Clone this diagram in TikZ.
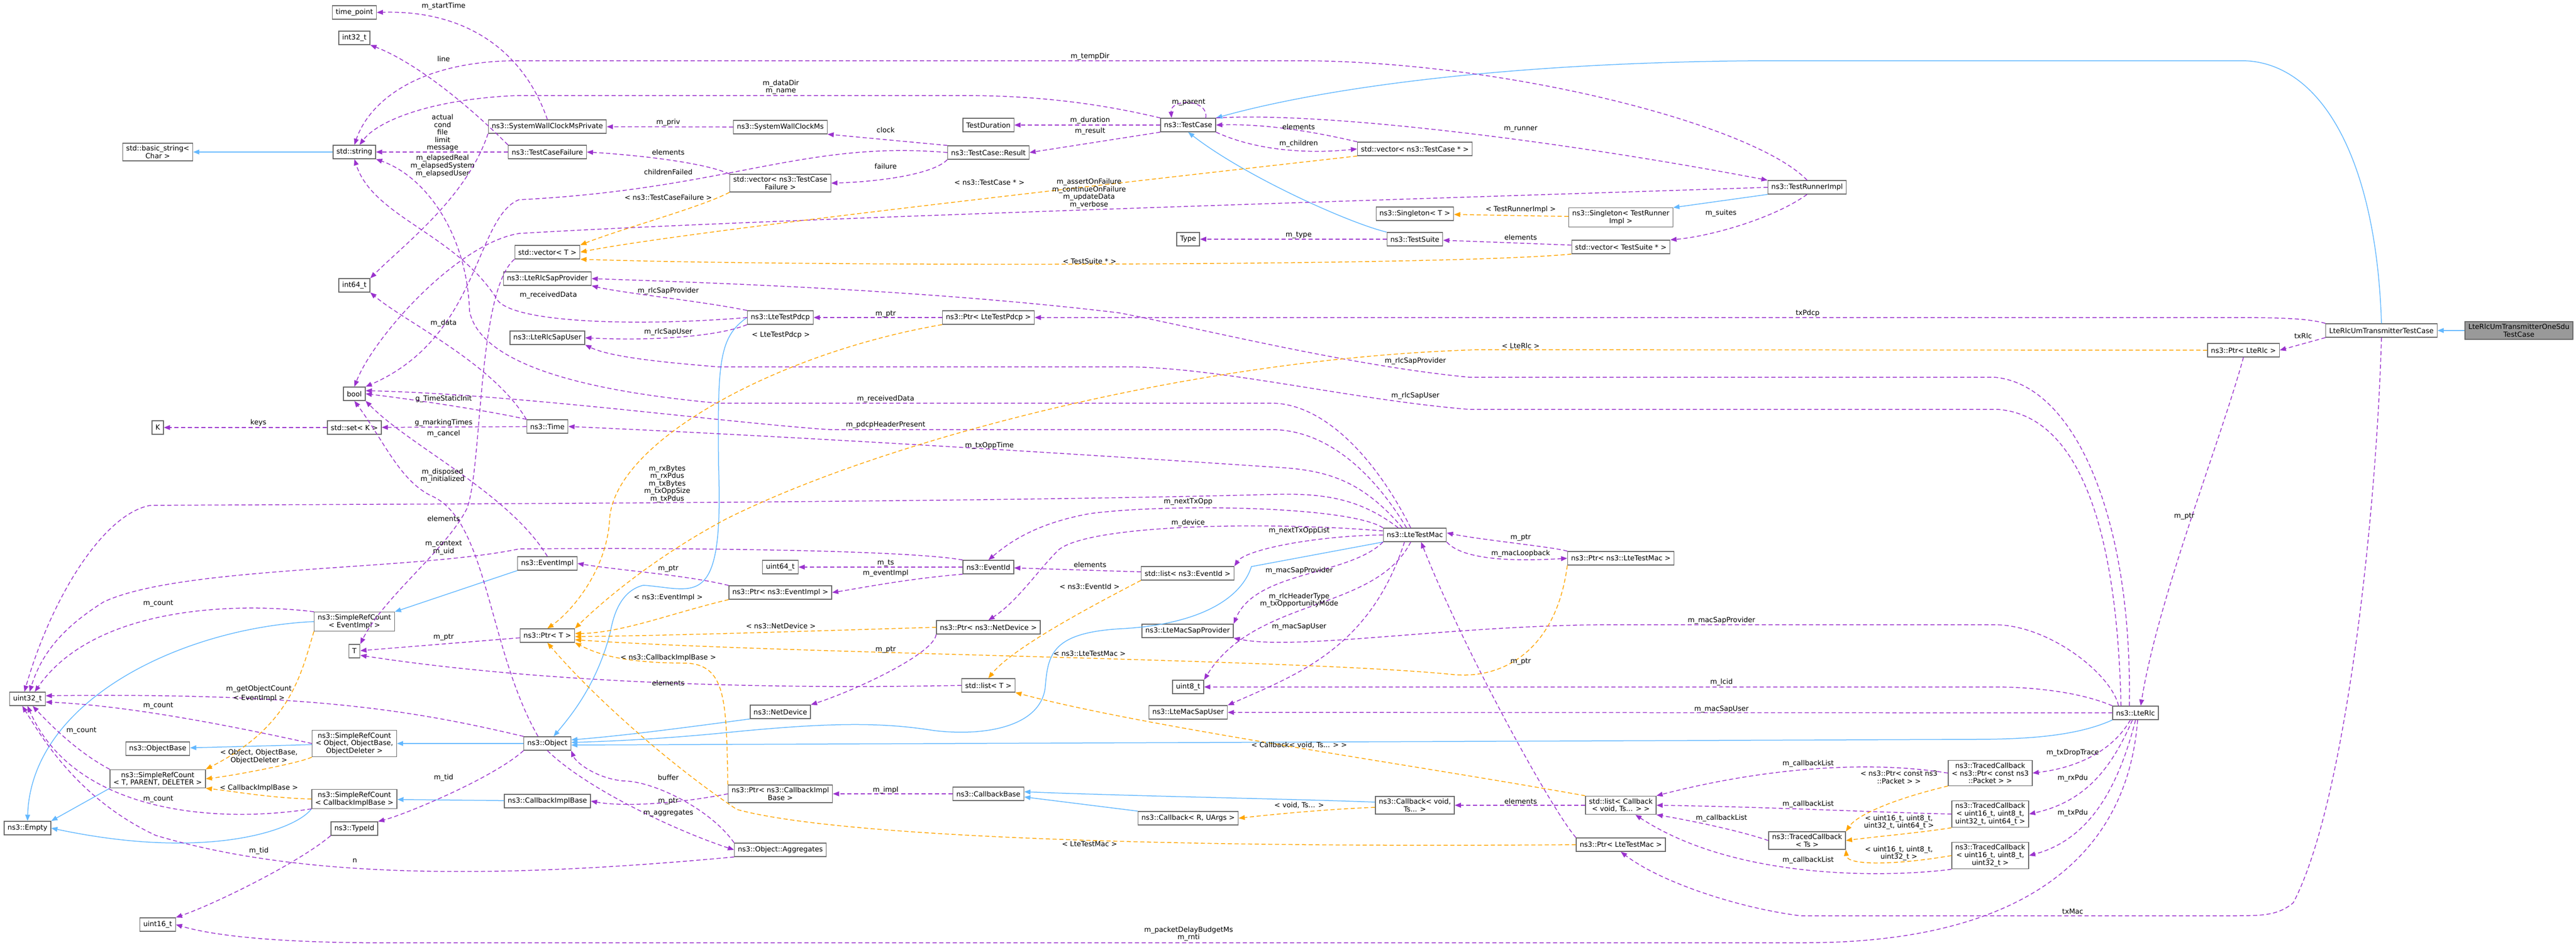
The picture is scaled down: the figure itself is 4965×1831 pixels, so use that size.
\documentclass[tikz,border=0pt]{standalone}
\usepackage{fontspec}
\setmainfont{DejaVu Sans}
\usepackage{tikz}
\usetikzlibrary{arrows.meta}
\definecolor{edgepurple}{HTML}{9A32CD}
\definecolor{edgeorange}{HTML}{FFA500}
\definecolor{edgeblue}{HTML}{63B8FF}
\definecolor{boxgray}{HTML}{666666}
\definecolor{rootfill}{HTML}{999999}

\begin{document}
\begin{tikzpicture}[x=0.5pt, y=-0.5pt,
        font=\fontsize{6.75}{7.3}\selectfont,
        cls/.style={draw=boxgray, fill=white, line width=0.7pt, inner xsep=3.3pt,
            inner ysep=2.2pt, minimum height=13pt, align=center},
        rootcls/.style={cls, fill=rootfill},
        lbl/.style={inner sep=0.5pt, align=center},
        mem/.style={draw=edgepurple, line width=0.75pt, dash pattern=on 4pt off 2.5pt,
            -{Triangle[length=6pt, width=4.6pt]}},
        tmpl/.style={draw=edgeorange, line width=0.75pt, dash pattern=on 4pt off 2.5pt,
            -{Triangle[length=6pt, width=4.6pt]}},
        inh/.style={draw=edgeblue, line width=0.75pt, -{Triangle[length=6pt, width=4.6pt]}}]
        \useasboundingbox (0, 0) rectangle (4965, 1831);

        % left columns
        \node[cls] (tpoint) at (683, 24) {time\_point};
        \node[cls] (i32) at (683, 73) {int32\_t};
        \node[cls] (str) at (683, 293) {std::string};
        \node[cls] (bstr) at (304, 293) {std::basic\_string<\\Char >};
        \node[cls] (i64) at (683, 550) {int64\_t};
        \node[cls] (bool) at (683, 759) {bool};
        \node[cls] (K) at (304, 824) {K};
        \node[cls] (setK) at (683, 824) {std::set< K >};
        \node[cls] (srcEv) at (683, 1198) {ns3::SimpleRefCount\\< EventImpl >};
        \node[cls] (T) at (683, 1255) {T};
        \node[cls] (u32) at (53, 1347) {uint32\_t};
        \node[cls] (srcObj) at (683, 1433) {ns3::SimpleRefCount\\< Object, ObjectBase,\\ObjectDeleter >};
        \node[cls] (objBase) at (304, 1443) {ns3::ObjectBase};
        \node[cls] (srcT) at (304, 1501) {ns3::SimpleRefCount\\< T, PARENT, DELETER >};
        \node[cls] (srcCb) at (683, 1540) {ns3::SimpleRefCount\\< CallbackImplBase >};
        \node[cls] (empty) at (53, 1596) {ns3::Empty};
        \node[cls] (typeId) at (683, 1597) {ns3::TypeId};
        \node[cls] (u16) at (304, 1782) {uint16\_t};

        \node[cls] (swcp) at (1055, 244) {ns3::SystemWallClockMsPrivate};
        \node[cls] (tcf) at (1055, 293) {ns3::TestCaseFailure};
        \node[cls] (vecT) at (1055, 486) {std::vector< T >};
        \node[cls] (sapP) at (1055, 537) {ns3::LteRlcSapProvider};
        \node[cls] (sapU) at (1055, 651) {ns3::LteRlcSapUser};
        \node[cls] (time) at (1055, 822) {ns3::Time};
        \node[cls] (evImpl) at (1055, 1086) {ns3::EventImpl};
        \node[cls] (ptrT) at (1055, 1225) {ns3::Ptr< T >};
        \node[cls] (obj) at (1055, 1433) {ns3::Object};
        \node[cls] (cbImpl) at (1055, 1544) {ns3::CallbackImplBase};

        % middle columns
        \node[cls] (swc) at (1504, 245) {ns3::SystemWallClockMs};
        \node[cls] (vecTcf) at (1504, 353) {std::vector< ns3::TestCase\\Failure >};
        \node[cls] (pdcp) at (1504, 612) {ns3::LteTestPdcp};
        \node[cls] (u64) at (1504, 1093) {uint64\_t};
        \node[cls] (ptrEv) at (1504, 1142) {ns3::Ptr< ns3::EventImpl >};
        \node[cls] (nd) at (1504, 1372) {ns3::NetDevice};
        \node[cls] (ptrCb) at (1504, 1530) {ns3::Ptr< ns3::CallbackImpl\\Base >};
        \node[cls] (aggr) at (1504, 1638) {ns3::Object::Aggregates};

        \node[cls] (tdur) at (1905, 241) {TestDuration};
        \node[cls] (tres) at (1905, 294) {ns3::TestCase::Result};
        \node[cls] (ptrPdcp) at (1905, 612) {ns3::Ptr< LteTestPdcp >};
        \node[cls] (evId) at (1905, 1093) {ns3::EventId};
        \node[cls] (ptrNd) at (1905, 1209) {ns3::Ptr< ns3::NetDevice >};
        \node[cls] (listT) at (1905, 1321) {std::list< T >};
        \node[cls] (cbBase) at (1905, 1530) {ns3::CallbackBase};

        \node[cls] (tcase) at (2290, 241) {ns3::TestCase};
        \node[cls] (type) at (2290, 461) {Type};
        \node[cls] (listEv) at (2289, 1105) {std::list< ns3::EventId >};
        \node[cls] (macP) at (2289, 1216) {ns3::LteMacSapProvider};
        \node[cls] (u8) at (2290, 1324) {uint8\_t};
        \node[cls] (macU) at (2290, 1373) {ns3::LteMacSapUser};
        \node[cls] (cbRU) at (2290, 1577) {ns3::Callback< R, UArgs >};

        \node[cls] (vecTc) at (2727, 287) {std::vector< ns3::TestCase * >};
        \node[cls] (singT) at (2727, 412) {ns3::Singleton< T >};
        \node[cls] (suite) at (2727, 461) {ns3::TestSuite};
        \node[cls] (mac) at (2727, 1031) {ns3::LteTestMac};
        \node[cls] (cbVoid) at (2727, 1552) {ns3::Callback< void,\\Ts... >};

        % right columns
        \node[cls] (singR) at (3124, 419) {ns3::Singleton< TestRunner\\Impl >};
        \node[cls] (vecTs) at (3124, 476) {std::vector< TestSuite * >};
        \node[cls] (ptrMac) at (3124, 1076) {ns3::Ptr< ns3::LteTestMac >};
        \node[cls] (listCb) at (3124, 1552) {std::list< Callback\\< void, Ts... > >};
        \node[cls] (ptrMacB) at (3124, 1628) {ns3::Ptr< LteTestMac >};
        \node[cls] (runner) at (3483, 361) {ns3::TestRunnerImpl};
        \node[cls] (tcTs) at (3483, 1620) {ns3::TracedCallback\\< Ts >};
        \node[cls] (tcPkt) at (3836, 1490) {ns3::TracedCallback\\< ns3::Ptr< const ns3\\::Packet > >};
        \node[cls] (tc4) at (3836, 1569) {ns3::TracedCallback\\< uint16\_t, uint8\_t,\\uint32\_t, uint64\_t >};
        \node[cls] (tc3) at (3836, 1649) {ns3::TracedCallback\\< uint16\_t, uint8\_t,\\uint32\_t >};
        \node[cls] (rlc) at (4116, 1374) {ns3::LteRlc};
        \node[cls] (ptrRlc) at (4324, 675) {ns3::Ptr< LteRlc >};
        \node[cls] (umtc) at (4590, 637) {LteRlcUmTransmitterTestCase};
        \node[rootcls] (onesdu) at (4855, 637) {LteRlcUmTransmitterOneSdu\\TestCase};

        % inheritance
        \draw[inh] (str) -- (bstr);
        \draw[inh] (onesdu) -- (umtc);
        \draw[inh] (umtc.north) .. controls (4580, 300) and (4470, 117) .. (4320, 117)
            -- (3400, 117) .. controls (2900, 120) and (2550, 170) .. (tcase.north east);
        \draw[inh] (suite.north west) .. controls (2600, 430) and (2400, 340) .. (tcase.south);
        \draw[inh] (runner.south west) -- (singR.north east);
        \draw[inh] (pdcp.west) .. controls (1385, 650) and (1383, 700) .. (1385, 900)
            .. controls (1395, 1180) and (1340, 1135) .. (1240, 1128)
            .. controls (1190, 1140) and (1180, 1200) .. (1176, 1220)
            .. controls (1150, 1320) and (1100, 1380) .. ([xshift=6pt]obj.north);
        \draw[inh] (evImpl.south west) -- (srcEv.north east);
        \draw[inh] (srcEv.west) .. controls (350, 1210) and (60, 1350) .. (empty.north);
        \draw[inh] (obj) -- (srcObj);
        \draw[inh] (srcObj) -- (objBase);
        \draw[inh] (srcT.south west) -- (empty.north east);
        \draw[inh] (srcCb.south west) .. controls (570, 1600) and (400, 1660) .. (empty.east);
        \draw[inh] (cbImpl) -- (srcCb);
        \draw[inh] (nd.south west) .. controls (1300, 1405) and (1200, 1418) .. ([yshift=3.5pt]obj.east);
        \draw[inh] (mac.south west) -- (2412, 1092) .. controls (2390, 1160) and (2300, 1205) .. (2157, 1212)
            .. controls (2030, 1220) and (2020, 1260) .. (2015, 1320)
            .. controls (2010, 1400) and (1900, 1420) .. (1800, 1408)
            .. controls (1700, 1392) and (1600, 1392) .. (1400, 1412)
            .. controls (1300, 1422) and (1200, 1428) .. ([yshift=1pt]obj.east);
        \draw[inh] (rlc.south west) .. controls (4000, 1420) and (3900, 1425) .. (3800, 1425)
            -- ([yshift=-1.5pt]obj.east);
        \draw[inh] ([yshift=3pt]cbVoid.west) .. controls (2500, 1540) and (2200, 1535) .. ([yshift=2pt]cbBase.east);
        \draw[inh] (cbRU.north west) -- ([yshift=-3pt]cbBase.east);

        % members
        \draw[mem] (swcp.north) .. controls (1010, 100) and (900, 19) .. (tpoint.east);
        \draw[mem] (tcf.north west) .. controls (900, 200) and (800, 120) .. (i32.south east);
        \draw[mem] (tcf) -- (str);
        \draw[mem] (swcp.south west) .. controls (900, 380) and (780, 470) .. (i64.north east);
        \draw[mem] (runner.north) .. controls (3380, 240) and (2900, 117) .. (2500, 117)
            -- (1000, 117) .. controls (800, 117) and (710, 200) .. (str.north);
        \draw[mem] (tcase.north west) .. controls (2100, 195) and (1980, 184) .. (1850, 184)
            -- (1000, 184) .. controls (840, 190) and (730, 230) .. ([xshift=5pt]str.north);
        \draw[mem] (tcase) -- (tdur);
        \draw[mem] (tcase.south west) -- (tres.east);
        \draw[mem] ([xshift=17pt]tcase.north) .. controls (2330, 190) and (2255, 190) .. ([xshift=-16pt]tcase.north);
        \draw[mem] (tcase.south east) .. controls (2420, 290) and (2520, 297) .. (vecTc.west);
        \draw[mem] (vecTc.north west) .. controls (2550, 258) and (2450, 238) .. (tcase.east);
        \draw[mem] (tcase.north east) .. controls (2550, 215) and (3000, 270) .. (runner.north west);
        \draw[mem] (tres.north west) -- (swc.south east);
        \draw[mem] (tres.south west) .. controls (1800, 335) and (1700, 350) .. (vecTcf.east);
        \draw[mem] (swc) -- (swcp);
        \draw[mem] (vecTcf.north west) .. controls (1350, 310) and (1200, 297) .. (tcf.east);
        \draw[mem] (tres.west) .. controls (1550, 270) and (1400, 365) .. (1000, 385)
            .. controls (915, 420) and (925, 650) .. (bool.north east);
        \draw[mem] (runner.west) .. controls (3000, 375) and (1500, 420) .. (1000, 450)
            .. controls (880, 470) and (720, 650) .. (bool.north);
        \draw[mem] (runner.south) .. controls (3420, 420) and (3300, 455) .. (vecTs.north east);
        \draw[mem] (vecTs) -- (suite);
        \draw[mem] (suite) -- (type);

        \draw[mem] (umtc.south west) -- (ptrRlc.east);
        \draw[mem] (umtc.north west) .. controls (4450, 614) and (4400, 612) .. (4300, 612) -- (ptrPdcp.east);
        \draw[mem] (umtc.south) .. controls (4580, 1000) and (4520, 1550) .. (4420, 1740)
            .. controls (4390, 1765) and (4360, 1765) .. (4300, 1765) -- (3470, 1765)
            .. controls (3350, 1750) and (3200, 1700) .. (ptrMacB.south);
        \draw[mem] (ptrRlc.south) .. controls (4280, 850) and (4160, 1150) .. ([xshift=5pt]rlc.north);
        \draw[mem] (ptrPdcp) -- (pdcp);
        \draw[mem] (pdcp.north west) .. controls (1350, 580) and (1200, 565) .. (sapP.south east);
        \draw[mem] (pdcp.south west) .. controls (1380, 650) and (1250, 657) .. (sapU.east);
        \draw[mem] (pdcp.west) .. controls (1250, 628) and (1000, 625) .. (960, 580)
            .. controls (880, 450) and (720, 420) .. (str.south);

        \draw[mem] ([xshift=-6pt]rlc.north) .. controls (4110, 1000) and (4000, 740) .. (3843, 727)
            -- (2831, 727) .. controls (2600, 705) and (2300, 630) .. (2157, 603)
            .. controls (1800, 560) and (1400, 546) .. (sapP.east);
        \draw[mem] ([xshift=-14pt]rlc.north) .. controls (4080, 1000) and (4000, 800) .. (3850, 789)
            -- (2831, 789) .. controls (2600, 770) and (2350, 707) .. (2165, 707)
            -- (1383, 707) .. controls (1300, 700) and (1180, 690) .. (sapU.south east);
        \draw[mem] ([xshift=6pt]rlc.north west) .. controls (4070, 1300) and (3950, 1204) .. (3843, 1204)
            -- (3113, 1204) .. controls (2800, 1204) and (2500, 1255) .. (macP.south east);
        \draw[mem] (rlc.north west) .. controls (4000, 1330) and (3900, 1324) .. (3843, 1324) -- (u8.east);
        \draw[mem] (rlc) -- (macU);
        \draw[mem] ([xshift=-5pt]rlc.south) .. controls (4070, 1450) and (4000, 1480) .. (tcPkt.east);
        \draw[mem] ([xshift=-3pt]rlc.south) .. controls (4070, 1480) and (4020, 1545) .. (tc4.east);
        \draw[mem] (rlc.south) .. controls (4080, 1530) and (4020, 1620) .. (tc3.east);
        \draw[mem] ([xshift=2pt]rlc.south) .. controls (4100, 1650) and (3900, 1817) .. (3478, 1817)
            -- (700, 1817) .. controls (500, 1815) and (400, 1800) .. (u16.east);

        \draw[mem] (ptrMac.north west) .. controls (3000, 1055) and (2850, 1040) .. ([yshift=2pt]mac.east);
        \draw[mem] (mac.south east) .. controls (2820, 1080) and (2920, 1082) .. (ptrMac.west);
        \draw[mem] (mac.west) .. controls (2530, 1033) and (2400, 1060) .. (listEv.north east);
        \draw[mem] (mac.north west) .. controls (2600, 975) and (2250, 970) .. (2100, 990)
            .. controls (1990, 1010) and (1940, 1050) .. (evId.north);
        \draw[mem] ([yshift=-3pt]mac.north west) .. controls (2450, 1005) and (2100, 1010) .. (2040, 1060)
            .. controls (2000, 1100) and (1960, 1160) .. (ptrNd.north);
        \draw[mem] (mac.south west) .. controls (2600, 1110) and (2420, 1100) .. (macP.north east);
        \draw[mem] ([xshift=-4pt]mac.south) .. controls (2650, 1180) and (2420, 1150) .. (u8.north east);
        \draw[mem] ([xshift=-10pt]mac.south) .. controls (2640, 1250) and (2500, 1300) .. (macU.north east);
        \draw[mem] ([xshift=-4pt]mac.north) .. controls (2650, 880) and (2550, 777) .. (2450, 777)
            -- (1383, 777) .. controls (1200, 760) and (930, 720) .. (905, 600)
            .. controls (900, 450) and (820, 340) .. (str.south east);
        \draw[mem] ([xshift=-8pt]mac.north) .. controls (2640, 900) and (2550, 828) .. (2450, 828)
            -- (1599, 828) .. controls (1400, 815) and (1000, 760) .. ([yshift=3pt]bool.east);
        \draw[mem] ([xshift=-12pt]mac.north) .. controls (2620, 920) and (2550, 905) .. (2450, 900)
            .. controls (2000, 870) and (1500, 840) .. (time.east);
        \draw[mem] ([xshift=-16pt]mac.north) .. controls (2620, 960) and (2550, 950) .. (2450, 953)
            .. controls (1800, 970) and (600, 972) .. (290, 974)
            .. controls (200, 990) and (100, 1150) .. ([xshift=-3pt]u32.north);
        \draw[mem] (ptrMacB.north west) .. controls (2990, 1560) and (2820, 1250) .. ([xshift=6pt]mac.south);

        \draw[mem] (evId) -- (u64);
        \draw[mem] (evId.south west) .. controls (1750, 1115) and (1650, 1135) .. (ptrEv.east);
        \draw[mem] (evId.north west) .. controls (1750, 1060) and (1300, 1055) .. (1000, 1058)
            .. controls (800, 1100) and (350, 1090) .. (200, 1160)
            .. controls (120, 1210) and (80, 1260) .. ([xshift=2pt]u32.north);
        \draw[mem] (listEv) -- (evId);
        \draw[mem] (ptrEv.north west) .. controls (1320, 1108) and (1200, 1100) .. (evImpl.east);
        \draw[mem] (ptrNd.south west) .. controls (1800, 1260) and (1650, 1330) .. (nd.north east);

        \draw[mem] (time.north west) .. controls (950, 700) and (780, 620) .. (i64.south east);
        \draw[mem] (time.north west) .. controls (960, 795) and (800, 770) .. (bool.east);
        \draw[mem] (time) -- (setK);
        \draw[mem] (setK) -- (K);
        \draw[mem] (evImpl.north) .. controls (980, 950) and (790, 860) .. (bool.south east);
        \draw[mem] ([xshift=-9pt]obj.north) .. controls (940, 1250) and (940, 1000) .. (830, 955)
            .. controls (770, 925) and (740, 850) .. (bool.south);
        \draw[mem] (vecT.south west) .. controls (920, 560) and (930, 900) .. (900, 980)
            .. controls (860, 1060) and (740, 1150) .. (T.north east);
        \draw[mem] (ptrT) -- (T);
        \draw[mem] (listT.west) .. controls (1400, 1330) and (1000, 1310) .. ([yshift=-4pt]T.east);

        \draw[mem] (srcEv.north west) .. controls (450, 1160) and (180, 1170) .. ([xshift=7pt]u32.north);
        \draw[mem] (srcObj.west) .. controls (450, 1400) and (250, 1360) .. ([yshift=-3pt]u32.east);
        \draw[mem] (obj.north west) .. controls (800, 1370) and (600, 1335) .. ([yshift=3pt]u32.east);
        \draw[mem] (srcT.north west) .. controls (150, 1450) and (100, 1400) .. ([xshift=5pt]u32.south);
        \draw[mem] (srcCb.south west) .. controls (400, 1590) and (140, 1560) .. (u32.south);
        \draw[mem] (aggr.south west) .. controls (1000, 1690) and (600, 1700) .. (300, 1610)
            .. controls (150, 1540) and (80, 1420) .. ([xshift=-5pt]u32.south);
        \draw[mem] (obj.south west) .. controls (950, 1500) and (780, 1570) .. (typeId.north east);
        \draw[mem] (typeId.south west) .. controls (580, 1660) and (420, 1740) .. (u16.north east);
        \draw[mem] (obj.south) .. controls (1130, 1520) and (1300, 1600) .. (aggr.west);
        \draw[mem] (aggr.north west) .. controls (1370, 1560) and (1260, 1505) .. (1200, 1505)
            .. controls (1150, 1500) and (1110, 1470) .. (obj.south east);
        \draw[mem] (ptrCb.west) .. controls (1300, 1550) and (1200, 1555) .. (cbImpl.east);
        \draw[mem] (cbBase) -- (ptrCb);
        \draw[mem] (listCb) -- (cbVoid);
        \draw[mem] (tcTs.west) .. controls (3350, 1600) and (3250, 1580) .. (listCb.south east);
        \draw[mem] (tcPkt.west) .. controls (3600, 1465) and (3400, 1480) .. (listCb.north east);
        \draw[mem] (tc4.west) .. controls (3600, 1565) and (3400, 1555) .. (listCb.east);
        \draw[mem] (tc3.south west) .. controls (3650, 1690) and (3350, 1700) .. ([xshift=14pt]listCb.south);

        % template instances
        \draw[tmpl] (vecTcf.south west) .. controls (1350, 400) and (1200, 440) .. (vecT.north east);
        \draw[tmpl] (vecTc.south west) .. controls (2000, 370) and (1300, 450) .. (vecT.east);
        \draw[tmpl] (vecTs.south west) .. controls (2800, 512) and (1600, 515) .. (vecT.south east);
        \draw[tmpl] (singR) -- (singT);
        \draw[tmpl] (ptrPdcp.south west) .. controls (1500, 680) and (1185, 850) .. (1175, 1000)
            .. controls (1170, 1100) and (1100, 1180) .. (ptrT.north);
        \draw[tmpl] (ptrRlc.west) -- (2850, 674) .. controls (2300, 690) and (1700, 850) .. (1400, 1000)
            .. controls (1250, 1080) and (1150, 1170) .. (ptrT.north east);
        \draw[tmpl] (ptrEv.south west) .. controls (1300, 1180) and (1200, 1220) .. ([yshift=2pt]ptrT.east);
        \draw[tmpl] (ptrNd.west) .. controls (1600, 1215) and (1300, 1225) .. ([yshift=-1pt]ptrT.east);
        \draw[tmpl] (ptrMac.south west) .. controls (3000, 1250) and (2900, 1310) .. (2800, 1300)
            .. controls (2500, 1270) and (1500, 1260) .. ([yshift=-4pt]ptrT.east);
        \draw[tmpl] (ptrCb.north west) .. controls (1400, 1350) and (1400, 1280) .. (1320, 1278)
            .. controls (1200, 1278) and (1150, 1260) .. (ptrT.south east);
        \draw[tmpl] (ptrMacB.west) .. controls (2200, 1635) and (1600, 1610) .. (1420, 1560)
            .. controls (1300, 1480) and (1150, 1350) .. (ptrT.south);
        \draw[tmpl] (srcEv.south west) .. controls (580, 1300) and (560, 1400) .. (srcT.north east);
        \draw[tmpl] (srcObj.south west) .. controls (580, 1470) and (450, 1495) .. (srcT.east);
        \draw[tmpl] (srcCb.west) .. controls (520, 1538) and (450, 1525) .. (srcT.south east);
        \draw[tmpl] (listEv.south west) .. controls (2100, 1170) and (1950, 1250) .. (listT.north);
        \draw[tmpl] (listCb.north west) .. controls (2700, 1470) and (2200, 1400) .. (listT.south east);
        \draw[tmpl] ([yshift=-2pt]cbVoid.west) .. controls (2550, 1560) and (2450, 1570) .. (cbRU.east);
        \draw[tmpl] (tcPkt.south west) .. controls (3650, 1540) and (3580, 1570) .. (tcTs.north east);
        \draw[tmpl] (tc4.south west) .. controls (3700, 1605) and (3620, 1612) .. (tcTs.east);
        \draw[tmpl] (tc3.west) .. controls (3650, 1668) and (3560, 1668) .. (tcTs.south east);

        % edge labels
        \node[lbl] (lStart) at (855, 12) {m\_startTime};
        \node[lbl] (lLine) at (855, 113) {line};
        \node[lbl] (lTcf) at (853, 256) {actual\\cond\\file\\limit\\message};
        \node[lbl] (lElapsed) at (853, 320) {m\_elapsedReal\\m\_elapsedSystem\\m\_elapsedUser};
        \node[lbl] (lRecvPdcp) at (1057, 569) {m\_receivedData};
        \node[lbl] (lData) at (855, 623) {m\_data};
        \node[lbl] (lStatic) at (855, 769) {g\_TimeStaticInit};
        \node[lbl] (lMarking) at (855, 815) {g\_markingTimes};
        \node[lbl] (lCancel) at (855, 836) {m\_cancel};
        \node[lbl] (lKeys) at (498, 815) {keys};
        \node[lbl] (lDisposed) at (853, 917) {m\_disposed\\m\_initialized};
        \node[lbl] (lElemT) at (855, 999) {elements};
        \node[lbl] (lCtx) at (855, 1056) {m\_context\\m\_uid};
        \node[lbl] (lCntEv) at (305, 1163) {m\_count};
        \node[lbl] (lPtrT) at (855, 1228) {m\_ptr};
        \node[lbl] (lGetCnt) at (499, 1328) {m\_getObjectCount};
        \node[lbl] (lTplEv) at (499, 1346) {< EventImpl >};
        \node[lbl] (lCntObj) at (305, 1360) {m\_count};
        \node[lbl] (lCntT) at (157, 1408) {m\_count};
        \node[lbl] (lTplObj) at (499, 1458) {< Object, ObjectBase,\\ObjectDeleter >};
        \node[lbl] (lTplCb) at (499, 1519) {< CallbackImplBase >};
        \node[lbl] (lCntCb) at (305, 1540) {m\_count};
        \node[lbl] (lTid) at (855, 1499) {m\_tid};
        \node[lbl] (lTid2) at (499, 1640) {m\_tid};
        \node[lbl] (lN) at (684, 1659) {n};
        \node[lbl] (lTemp) at (2101, 109) {m\_tempDir};
        \node[lbl] (lDataDir) at (1505, 168) {m\_dataDir\\m\_name};
        \node[lbl] (lParent) at (2291, 197) {m\_parent};
        \node[lbl] (lDur) at (2101, 232) {m\_duration};
        \node[lbl] (lRes) at (2101, 253) {m\_result};
        \node[lbl] (lPriv) at (1288, 236) {m\_priv};
        \node[lbl] (lClock) at (1707, 250) {clock};
        \node[lbl] (lElemTcf) at (1288, 293) {elements};
        \node[lbl] (lChildF) at (1288, 331) {childrenFailed};
        \node[lbl] (lFail) at (1707, 320) {failure};
        \node[lbl] (lTplTcf) at (1288, 380) {< ns3::TestCaseFailure >};
        \node[lbl] (lTplTc) at (1907, 352) {< ns3::TestCase * >};
        \node[lbl] (lAssert) at (2099, 373) {m\_assertOnFailure\\m\_continueOnFailure\\m\_updateData\\m\_verbose};
        \node[lbl] (lTplTs) at (2100, 503) {< TestSuite * >};
        \node[lbl] (lSapPPdcp) at (1288, 561) {m\_rlcSapProvider};
        \node[lbl] (lPtrPdcp) at (1707, 605) {m\_ptr};
        \node[lbl] (lElemTc) at (2503, 244) {elements};
        \node[lbl] (lChildren) at (2503, 277) {m\_children};
        \node[lbl] (lRunner) at (2931, 249) {m\_runner};
        \node[lbl] (lTplRun) at (2931, 404) {< TestRunnerImpl >};
        \node[lbl] (lSuites) at (3317, 411) {m\_suites};
        \node[lbl] (lType) at (2503, 453) {m\_type};
        \node[lbl] (lElemTs) at (2931, 457) {elements};
        \node[lbl] (lTxPdcp) at (3484, 604) {txPdcp};
        \node[lbl] (lTxRlc) at (4439, 647) {txRlc};
        \node[lbl] (lPtrRlc) at (4210, 995) {m\_ptr};
        \node[lbl] (lSapUPdcp) at (1288, 640) {m\_rlcSapUser};
        \node[lbl] (lTplPdcp) at (1505, 646) {< LteTestPdcp >};
        \node[lbl] (lRecvMac) at (1707, 769) {m\_receivedData};
        \node[lbl] (lPdcpHdr) at (1707, 819) {m\_pdcpHeaderPresent};
        \node[lbl] (lTxOpp) at (1907, 859) {m\_txOppTime};
        \node[lbl] (lRxBytes) at (1286, 933) {m\_rxBytes\\m\_rxPdus\\m\_txBytes\\m\_txOppSize\\m\_txPdus};
        \node[lbl] (lNextTx) at (2290, 967) {m\_nextTxOpp};
        \node[lbl] (lDevice) at (2290, 1008) {m\_device};
        \node[lbl] (lTs) at (1707, 1085) {m\_ts};
        \node[lbl] (lEvImpl) at (1707, 1105) {m\_eventImpl};
        \node[lbl] (lPtrEv) at (1288, 1096) {m\_ptr};
        \node[lbl] (lTplEvI) at (1288, 1152) {< ns3::EventImpl >};
        \node[lbl] (lElemEv) at (2101, 1088) {elements};
        \node[lbl] (lTplEvId) at (2100, 1130) {< ns3::EventId >};
        \node[lbl] (lTplNd) at (1505, 1206) {< ns3::NetDevice >};
        \node[lbl] (lTplRlc) at (2931, 666) {< LteRlc >};
        \node[lbl] (lSapPRlc) at (2728, 696) {m\_rlcSapProvider};
        \node[lbl] (lSapURlc) at (2728, 763) {m\_rlcSapUser};
        \node[lbl] (lNextList) at (2504, 1023) {m\_nextTxOppList};
        \node[lbl] (lPtrMac) at (2931, 1036) {m\_ptr};
        \node[lbl] (lLoop) at (2931, 1067) {m\_macLoopback};
        \node[lbl] (lMacP) at (2504, 1100) {m\_macSapProvider};
        \node[lbl] (lHdr) at (2504, 1157) {m\_rlcHeaderType\\m\_txOpportunityMode};
        \node[lbl] (lMacU) at (2504, 1208) {m\_macSapUser};
        \node[lbl] (lMacPRlc) at (3318, 1196) {m\_macSapProvider};
        \node[lbl] (lPtrMacB) at (2931, 1275) {m\_ptr};
        \node[lbl] (lLcid) at (3318, 1315) {m\_lcid};
        \node[lbl] (lMacURlc) at (3318, 1367) {m\_macSapUser};
        \node[lbl] (lPtrNd) at (1707, 1252) {m\_ptr};
        \node[lbl] (lTplMac) at (2100, 1260) {< ns3::LteTestMac >};
        \node[lbl] (lTplCbI) at (1288, 1268) {< ns3::CallbackImplBase >};
        \node[lbl] (lElemLT) at (1288, 1316) {elements};
        \node[lbl] (lTplCbV) at (2504, 1436) {< Callback< void, Ts... > >};
        \node[lbl] (lBuffer) at (1288, 1498) {buffer};
        \node[lbl] (lPtrCb) at (1288, 1544) {m\_ptr};
        \node[lbl] (lAggr) at (1288, 1567) {m\_aggregates};
        \node[lbl] (lImpl) at (1707, 1523) {m\_impl};
        \node[lbl] (lTplMacB) at (2100, 1627) {< LteTestMac >};
        \node[lbl] (lPdb) at (2291, 1800) {m\_packetDelayBudgetMs\\m\_rnti};
        \node[lbl] (lTplVoid) at (2504, 1552) {< void, Ts... >};
        \node[lbl] (lElemCb) at (2931, 1544) {elements};
        \node[lbl] (lCbl1) at (3485, 1472) {m\_callbackList};
        \node[lbl] (lTplPkt) at (3660, 1498) {< ns3::Ptr< const ns3\\::Packet > >};
        \node[lbl] (lCbl2) at (3485, 1550) {m\_callbackList};
        \node[lbl] (lTpl4) at (3660, 1585) {< uint16\_t, uint8\_t,\\uint32\_t, uint64\_t >};
        \node[lbl] (lCbl3) at (3318, 1577) {m\_callbackList};
        \node[lbl] (lTpl3) at (3660, 1645) {< uint16\_t, uint8\_t,\\uint32\_t >};
        \node[lbl] (lCbl4) at (3485, 1658) {m\_callbackList};
        \node[lbl] (lDrop) at (3995, 1451) {m\_txDropTrace};
        \node[lbl] (lRxPdu) at (3995, 1500) {m\_rxPdu};
        \node[lbl] (lTxPdu) at (3995, 1567) {m\_txPdu};
        \node[lbl] (lTxMac) at (3995, 1757) {txMac};
\end{tikzpicture}
\end{document}
